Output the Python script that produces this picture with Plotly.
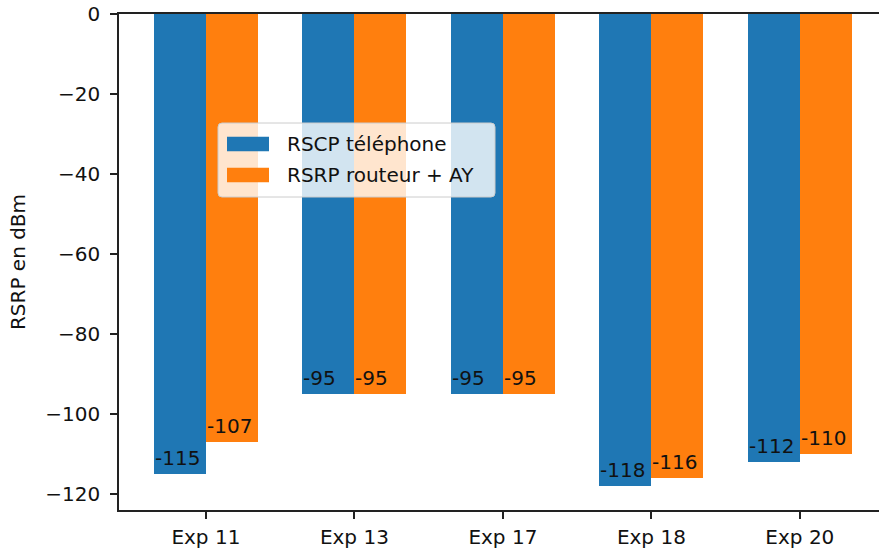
import plotly.graph_objects as go

categories = ["Exp 11", "Exp 13", "Exp 17", "Exp 18", "Exp 20"]
rscp_telephone = [-115, -95, -95, -118, -112]
rsrp_routeur = [-107, -95, -95, -116, -110]
series_names = ["RSCP téléphone", "RSRP routeur + AY"]
y_ticks = [0, -20, -40, -60, -80, -100, -120]
y_title = "RSRP en dBm"

BLUE = "#1f77b4"
ORANGE = "#ff7f0e"
FONT = "DejaVu Sans"
FS = 20
W = 0.35

W_PX, H_PX = 879, 550
ML, MR, MT, MB = 119, 0, 14, 40
PW = W_PX - ML - MR
PH = H_PX - MT - MB

def px2x(px):
    return (px - ML) / PW

def py2y(py):
    return (H_PX - MB - py) / PH

xs = list(range(len(categories)))

fig = go.Figure()
for vals, off, col, name in [(rscp_telephone, -W / 2, BLUE, series_names[0]),
                             (rsrp_routeur, W / 2, ORANGE, series_names[1])]:
    fig.add_trace(go.Bar(x=[i + off for i in xs], y=vals, width=W,
                         marker=dict(color=col, line=dict(width=0)),
                         name=name, showlegend=False, hoverinfo="skip"))
    for i, v in zip(xs, vals):
        fig.add_annotation(x=i + off - W / 2, y=v, xref="x", yref="y",
                           text=str(v), showarrow=False, xanchor="left",
                           yanchor="bottom", borderpad=0, yshift=3,
                           font=dict(family=FONT, size=FS, color="#111"))

# custom matplotlib-like legend
lx0, lx1, ly0, ly1 = 218, 495, 123, 197
r = 4
def P(px, py):
    return f"{px2x(px)},{py2y(py)}"
path = (f"M {P(lx0 + r, ly0)} L {P(lx1 - r, ly0)} Q {P(lx1, ly0)} {P(lx1, ly0 + r)} "
        f"L {P(lx1, ly1 - r)} Q {P(lx1, ly1)} {P(lx1 - r, ly1)} "
        f"L {P(lx0 + r, ly1)} Q {P(lx0, ly1)} {P(lx0, ly1 - r)} "
        f"L {P(lx0, ly0 + r)} Q {P(lx0, ly0)} {P(lx0 + r, ly0)} Z")
fig.add_shape(type="path", path=path, xref="paper", yref="paper",
              fillcolor="rgba(255,255,255,0.8)", line=dict(color="#cccccc", width=1),
              layer="above")
for k, (col, name) in enumerate([(BLUE, series_names[0]), (ORANGE, series_names[1])]):
    cy = 144 + 31 * k
    fig.add_shape(type="rect", xref="paper", yref="paper",
                  x0=px2x(227), x1=px2x(269), y0=py2y(cy - 7.3), y1=py2y(cy + 7.3),
                  fillcolor=col, line=dict(width=0), layer="above")
    fig.add_annotation(x=px2x(285), y=py2y(cy), xref="paper", yref="paper",
                       text=name, showarrow=False, xanchor="left", yanchor="middle",
                       font=dict(family=FONT, size=FS, color="#111"))

fig.update_layout(
    width=W_PX, height=H_PX,
    margin=dict(l=ML, r=MR, t=MT, b=MB, autoexpand=False),
    plot_bgcolor="white", paper_bgcolor="white",
    font=dict(family=FONT, size=FS, color="#111"),
    bargap=0,
)
fig.update_xaxes(range=[-0.585, 4.533], tickvals=xs, ticktext=categories,
                 showgrid=False, zeroline=False, showline=True, linecolor="#222",
                 linewidth=1.5, mirror=True, ticks="outside", ticklen=7,
                 tickwidth=1.5, tickcolor="#222", ticklabelstandoff=1,
                 automargin=False)
fig.update_yaxes(range=[-123.9, 0], tickvals=y_ticks,
                 ticktext=[("−" + str(-t)) if t < 0 else str(t) for t in y_ticks],
                 showgrid=False, zeroline=False, showline=True, linecolor="#222",
                 linewidth=1.5, ticks="outside", ticklen=7, tickwidth=1.5,
                 tickcolor="#222", ticklabelstandoff=6, automargin=False,
                 title=dict(text=y_title, standoff=14, font=dict(size=FS)))

fig.write_html("out.html", config={"displayModeBar": False},
               post_script="document.body.style.margin='0';document.body.style.overflow='hidden';")
